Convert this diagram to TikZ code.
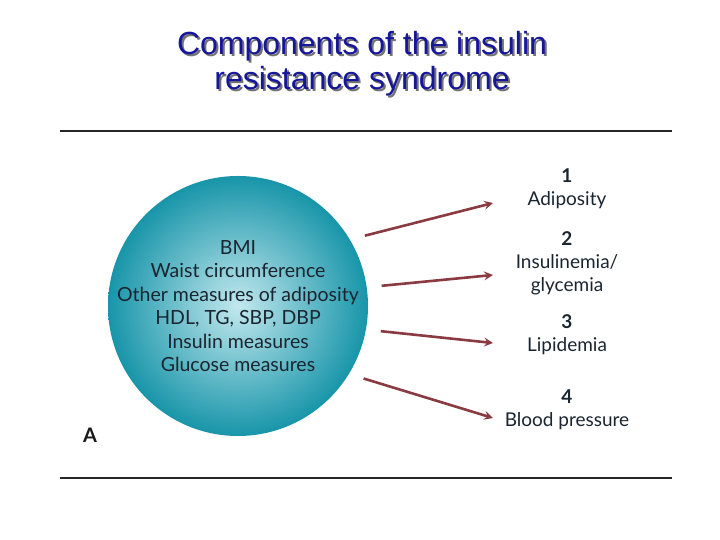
\documentclass[tikz,border=0pt]{standalone}
\usepackage{fontspec}
\setmainfont{Lato}
\newfontfamily\titlefont{Liberation Sans}
\usetikzlibrary{arrows.meta,positioning,calc}
\definecolor{cTitle}{HTML}{16169C}
\definecolor{cArrow}{HTML}{8A3B42}
\definecolor{cText}{HTML}{1A2530}
\definecolor{cBallIn}{HTML}{C2E8EE}
\definecolor{cBallOut}{HTML}{1895A9}
% text with a drop shadow
\newcommand{\shadowtxt}[1]{\rlap{\kern2pt\raisebox{-2pt}{\textcolor{black!55}{#1}}}#1}

\begin{document}
\begin{tikzpicture}[x=1pt,y=1pt,
  rule/.style={line width=2.2pt,draw=black!85},
  ttl/.style={font=\titlefont\fontsize{32}{35}\selectfont,align=center,text=cTitle},
  lbl/.style={font=\fontsize{19}{23}\selectfont,text=cText,align=center},
  link/.style={cArrow,line width=2.6pt,-{Stealth[length=9pt,width=9pt,inset=3.5pt]}}]
  \useasboundingbox (0,0) rectangle (720,540);
  \node[ttl] (title) at (362,475)
    {\shadowtxt{Components of the insulin}\\\shadowtxt{resistance syndrome}};
  \draw[rule] (60,409) -- (672,409);
  \draw[rule] (60,62) -- (672,62);
  % ball
  \node[circle,minimum size=260pt,inner sep=0pt,shading=radial,
        inner color=cBallIn,outer color=cBallOut] (ball) at (238,234) {};
  \node[lbl,font=\fontsize{19.5}{23.4}\selectfont] at (ball.center)
    {BMI\\Waist circumference\\Other measures of adiposity\\HDL, TG, SBP, DBP\\Insulin measures\\Glucose measures};
  \node[font=\bfseries\fontsize{20}{20}\selectfont,text=black!90] (A) at (90,105) {A};
  % outcomes
  \node[lbl] (o1) at (567,351) {\textbf{1}\\Adiposity};
  \node[lbl] (o2) at (567,277) {\textbf{2}\\Insulinemia/\\glycemia};
  \node[lbl] (o3) at (567,205) {\textbf{3}\\Lipidemia};
  \node[lbl] (o4) at (567,130) {\textbf{4}\\Blood pressure};
  \foreach \i/\a/\y in {1/29/337,2/8/265,3/-10/197,4/-30/122}{
    \coordinate (s\i) at ([shift={(\a:145)}]ball.center);
    \coordinate (e\i) at (493,\y);
    \draw[link] (s\i) -- (e\i);
  }
\end{tikzpicture}
\end{document}
